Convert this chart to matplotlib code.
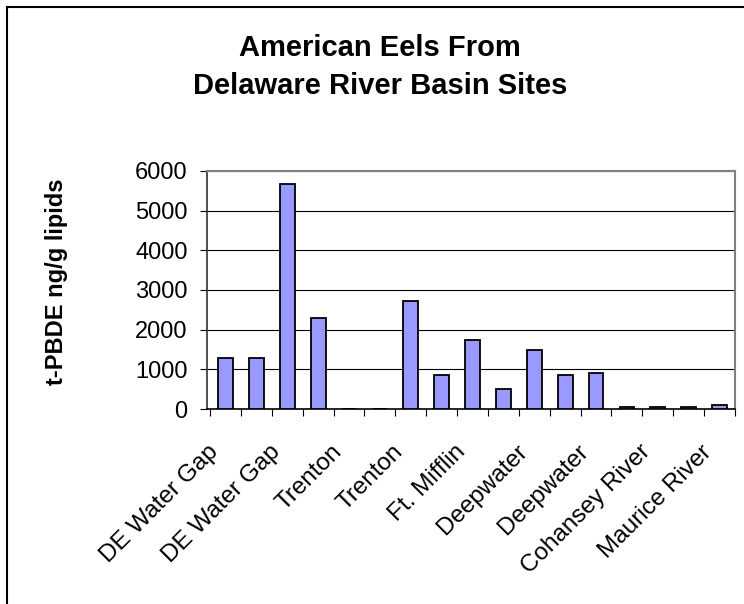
import numpy as np
import matplotlib
matplotlib.use("Agg")
import matplotlib.pyplot as plt
from matplotlib.lines import Line2D

# data (17 samples, every other one labelled)
tpbde = [1290, 1290, 5670, 2290, 0, 0, 2730, 850, 1740,
         500, 1490, 850, 900, 50, 50, 50, 100]
site_labels = ["DE Water Gap", "DE Water Gap", "Trenton", "Trenton",
               "Ft. Mifflin", "Deepwater", "Deepwater",
               "Cohansey River", "Maurice River"]
y_ticks = [0, 1000, 2000, 3000, 4000, 5000, 6000]

title_text = "American Eels From\nDelaware River Basin Sites"
y_title = "t-PBDE ng/g lipids"

plt.rcParams['font.family'] = ['Liberation Sans', 'DejaVu Sans']

W, H = 744, 604
fig = plt.figure(figsize=(W / 100, H / 100), dpi=100)
ax = fig.add_axes([207 / W, 1 - 409 / H, (735 - 207) / W, (409 - 171) / H])

n = len(tpbde)
x = np.arange(n)
ax.bar(x, tpbde, width=0.48, color="#9999ff", edgecolor="black",
       linewidth=1.3, zorder=3)

ax.set_xlim(-0.5, n - 0.5)
ax.set_ylim(0, 6000)
ax.set_yticks(y_ticks)
ax.set_yticklabels([str(v) for v in y_ticks], fontsize=17)
ax.yaxis.grid(True, color="black", linewidth=0.8, zorder=0)
ax.set_axisbelow(True)

# tick marks sit on the category borders, labels on every other bar
# (label anchors nudged left so the rotated text ends just left of the bar)
ax.set_xticks(np.arange(n + 1) - 0.5)
ax.set_xticklabels([])
ax.set_xticks(x[::2] - 0.6, minor=True)
ax.set_xticklabels(site_labels, minor=True, fontsize=17.5, rotation=45,
                   ha="right", va="top", rotation_mode="anchor")
ax.tick_params(axis="x", which="major", direction="out", length=5, width=0.8)
ax.tick_params(axis="x", which="minor", length=0, pad=23)
ax.tick_params(axis="y", direction="out", length=5, width=0.8, pad=9)

for side in ("top", "right"):
    ax.spines[side].set_color("#808080")
    ax.spines[side].set_linewidth(1.5)
ax.spines["left"].set_color("#333333")
ax.spines["left"].set_linewidth(1.2)
ax.spines["bottom"].set_color("black")
ax.spines["bottom"].set_linewidth(1.2)

fig.text(380 / W, 1 - 67 / H, title_text, ha="center", va="center",
         fontsize=21, fontweight="bold", linespacing=1.42)
fig.text(57 / W, 1 - 282 / H, y_title, rotation=90, ha="center",
         va="center", fontsize=17, fontweight="bold")

# outer chart frame (only left and top edges visible)
fig.add_artist(Line2D([7 / W, 7 / W], [0, 1 - 7 / H], color="black",
                      linewidth=1.5, transform=fig.transFigure))
fig.add_artist(Line2D([7 / W, 1], [1 - 7 / H, 1 - 7 / H], color="black",
                      linewidth=1.5, transform=fig.transFigure))

fig.savefig("out.png", dpi=100)
